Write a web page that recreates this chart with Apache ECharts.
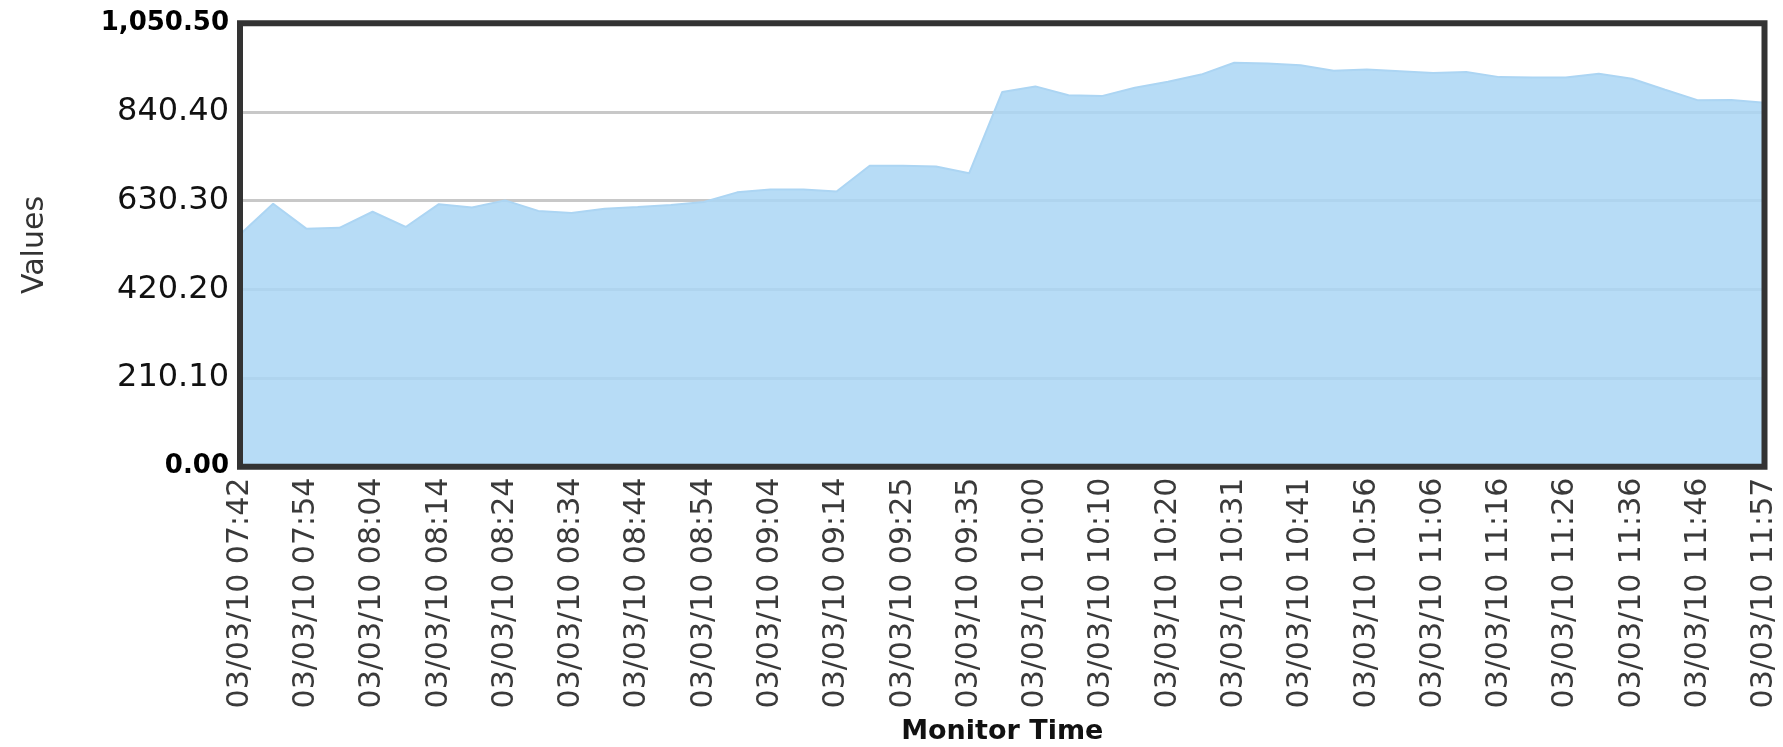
<!DOCTYPE html>
<html>
<head>
<meta charset="utf-8">
<script src="https://cdn.jsdelivr.net/npm/echarts@6/dist/echarts.min.js"></script>
<style>
  html, body { margin: 0; padding: 0; background: #ffffff; }
  #chart { width: 1783px; height: 747px; }
</style>
</head>
<body>
<div id="chart"></div>
<script>
// Categories (every other one is labelled on the axis)
const categories = [
  '03/03/10 07:42', '03/03/10 07:48', '03/03/10 07:54', '03/03/10 07:59',
  '03/03/10 08:04', '03/03/10 08:09', '03/03/10 08:14', '03/03/10 08:19',
  '03/03/10 08:24', '03/03/10 08:29', '03/03/10 08:34', '03/03/10 08:39',
  '03/03/10 08:44', '03/03/10 08:49', '03/03/10 08:54', '03/03/10 08:59',
  '03/03/10 09:04', '03/03/10 09:09', '03/03/10 09:14', '03/03/10 09:19',
  '03/03/10 09:25', '03/03/10 09:30', '03/03/10 09:35', '03/03/10 09:45',
  '03/03/10 10:00', '03/03/10 10:05', '03/03/10 10:10', '03/03/10 10:15',
  '03/03/10 10:20', '03/03/10 10:25', '03/03/10 10:31', '03/03/10 10:36',
  '03/03/10 10:41', '03/03/10 10:46', '03/03/10 10:56', '03/03/10 11:01',
  '03/03/10 11:06', '03/03/10 11:11', '03/03/10 11:16', '03/03/10 11:21',
  '03/03/10 11:26', '03/03/10 11:31', '03/03/10 11:36', '03/03/10 11:41',
  '03/03/10 11:46', '03/03/10 11:51', '03/03/10 11:57'
];

// Series values
const values = [
  550, 623, 564, 566, 604, 568, 622, 614, 631, 606,
  601, 611, 615, 620, 627, 650, 657, 657, 652, 713,
  713, 711, 695, 888, 901, 880, 878, 898, 912, 929,
  957, 955, 951, 938, 941, 937, 933, 935, 923, 922,
  922, 931, 919, 893, 868, 869, 862
];

// Y axis tick settings
const yMin = 0;
const yMax = 1050.5;
const yInterval = 210.1;

const chart = echarts.init(document.getElementById('chart'), null, { renderer: 'canvas' });

function fmt(v) {
  return v.toLocaleString('en-US', { minimumFractionDigits: 2, maximumFractionDigits: 2 });
}

const option = {
  animation: false,
  backgroundColor: '#ffffff',
  grid: {
    show: true,
    z: 10,
    left: 240,
    right: 18.5,
    top: 23.3,
    bottom: 280.3,
    containLabel: false,
    outerBoundsMode: 'none',
    backgroundColor: 'transparent',
    borderColor: '#333333',
    borderWidth: 6
  },
  xAxis: {
    type: 'category',
    data: categories,
    boundaryGap: false,
    name: 'Monitor Time',
    nameLocation: 'middle',
    nameGap: 252,
    nameTextStyle: {
      fontFamily: 'DejaVu Sans',
      fontWeight: 'bold',
      fontSize: 27,
      color: '#111111'
    },
    axisLine: { show: false },
    axisTick: { show: false },
    splitLine: { show: false },
    axisLabel: {
      interval: 1,
      rotate: 90,
      margin: 11,
      fontFamily: 'DejaVu Sans',
      fontSize: 30,
      color: '#3a3a3a'
    }
  },
  yAxis: {
    type: 'value',
    min: yMin,
    max: yMax,
    interval: yInterval,
    name: 'Values',
    nameLocation: 'middle',
    nameGap: 190,
    nameTextStyle: {
      fontFamily: 'DejaVu Sans',
      fontSize: 30,
      color: '#333333'
    },
    axisLine: { show: false },
    axisTick: { show: false },
    splitLine: {
      show: true,
      lineStyle: { color: '#c8c8c8', width: 3 }
    },
    axisLabel: {
      margin: 11,
      fontFamily: 'DejaVu Sans',
      fontSize: 32,
      color: '#111111',
      formatter: function (v) {
        const s = fmt(v);
        if (Math.abs(v - yMin) < 1e-6 || Math.abs(v - yMax) < 1e-6) {
          return '{b|' + s + '}';
        }
        return s;
      },
      rich: {
        b: {
          fontFamily: 'DejaVu Sans',
          fontWeight: 'bold',
          fontSize: 26,
          color: '#000000'
        }
      }
    }
  },
  series: [{
    type: 'line',
    data: values,
    symbol: 'none',
    lineStyle: { color: '#acd5f3', width: 2 },
    areaStyle: { color: 'rgba(170, 214, 245, 0.85)', opacity: 1 }
  }]
};

chart.setOption(option);
</script>
</body>
</html>
